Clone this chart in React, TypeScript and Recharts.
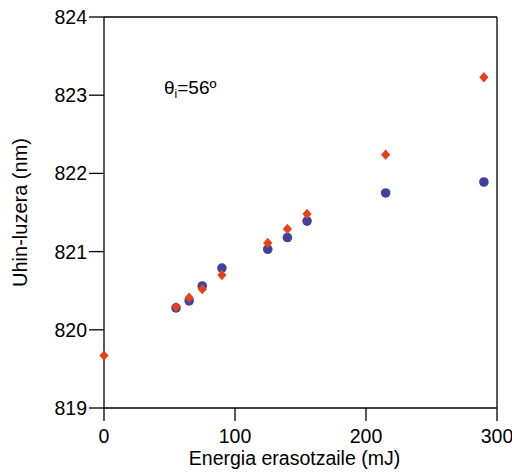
import {
  ScatterChart,
  Scatter,
  XAxis,
  YAxis,
  ReferenceLine,
  Customized,
} from 'recharts';

const energiaGorria = [0, 55, 65, 75, 90, 125, 140, 155, 215, 290];
const uhinGorria = [819.67, 820.29, 820.41, 820.52, 820.7, 821.11, 821.29, 821.48, 822.24, 823.23];

const energiaUrdina = [55, 65, 75, 90, 125, 140, 155, 215, 290];
const uhinUrdina = [820.28, 820.37, 820.56, 820.79, 821.03, 821.18, 821.39, 821.75, 821.89];

const xTicks = [0, 100, 200, 300];
const yTicks = [819, 820, 821, 822, 823, 824];

const GORRIA = '#E8401C';
const URDINA = '#40419A';
const FONT = '"Liberation Sans", Arial, sans-serif';

const gorria = energiaGorria.map((x, i) => ({ x, y: uhinGorria[i] }));
const urdina = energiaUrdina.map((x, i) => ({ x, y: uhinUrdina[i] }));

const Diamantea = (props: any) => {
  const { cx, cy } = props;
  if (cx == null || cy == null) return null;
  const w = 4.6;
  const h = 5.2;
  return (
    <path
      d={`M${cx},${cy - h}L${cx + w},${cy}L${cx},${cy + h}L${cx - w},${cy}Z`}
      fill={GORRIA}
    />
  );
};

const Zirkulua = (props: any) => {
  const { cx, cy } = props;
  if (cx == null || cy == null) return null;
  return <circle cx={cx} cy={cy} r={4.8} fill={URDINA} />;
};

const Oharra = () => (
  <text x={164} y={94} fontFamily={FONT} fontSize={19} fill="#000">
    θ
    <tspan fontSize={12} dy={4}>i</tspan>
    <tspan dy={-4}>=56º</tspan>
  </text>
);

export default function App() {
  return (
    <div style={{ position: 'absolute', left: 0, top: 0, background: '#fff' }}>
      <ScatterChart
        width={512}
        height={473}
        margin={{ top: 17, right: 15, bottom: 0, left: 0 }}
      >
        <XAxis
          type="number"
          dataKey="x"
          domain={[0, 300]}
          ticks={xTicks}
          height={65}
          tickSize={13}
          tickMargin={8}
          stroke="#000"
          strokeWidth={1.3}
          tick={{ fill: '#000', fontSize: 19.5, fontFamily: FONT }}
          label={{
            value: 'Energia erasotzaile (mJ)',
            position: 'insideBottom',
            offset: 8,
            dx: -6,
            fill: '#000',
            fontSize: 19.5,
            fontFamily: FONT,
          }}
        />
        <YAxis
          type="number"
          dataKey="y"
          domain={[819, 824]}
          ticks={yTicks}
          width={104}
          tickSize={15}
          tickMargin={2}
          stroke="#000"
          strokeWidth={1.3}
          tick={{ fill: '#000', fontSize: 19.5, fontFamily: FONT }}
          label={{
            value: 'Uhin-luzera (nm)',
            angle: -90,
            position: 'center',
            dx: -32,
            fill: '#000',
            fontSize: 20,
            fontFamily: FONT,
          }}
        />
        <ReferenceLine y={824} stroke="#000" strokeWidth={1.3} />
        <ReferenceLine x={300} stroke="#000" strokeWidth={1.3} />
        <Scatter data={urdina} shape={<Zirkulua />} isAnimationActive={false} />
        <Scatter data={gorria} shape={<Diamantea />} isAnimationActive={false} />
        <Customized component={Oharra} />
      </ScatterChart>
    </div>
  );
}
